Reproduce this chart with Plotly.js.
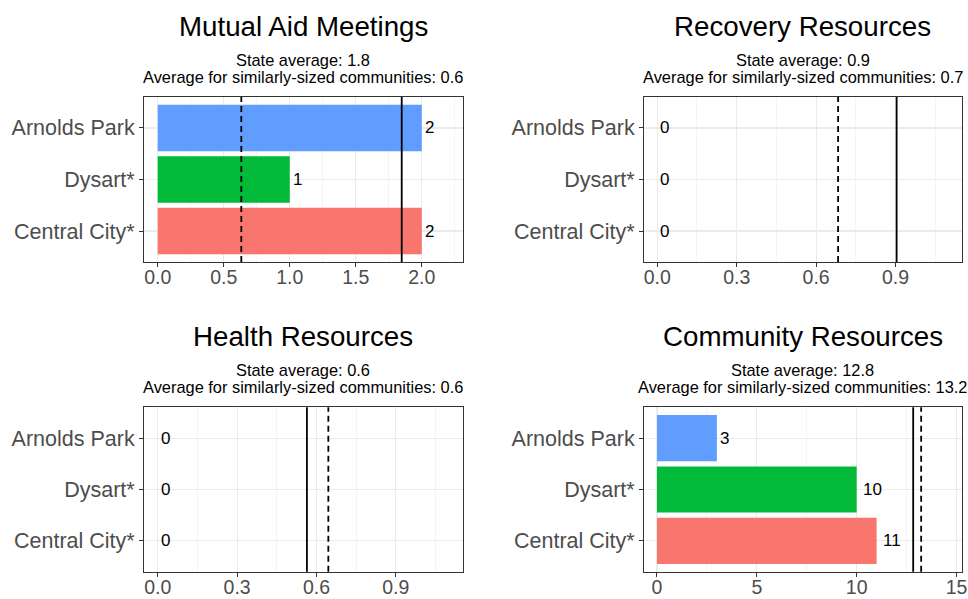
<!DOCTYPE html>
<html>
<head>
<meta charset="utf-8">
<script src="https://cdn.plot.ly/plotly-3.0.1.min.js"></script>
<style>html,body{margin:0;padding:0;background:#fff;}#chart{width:968px;height:599px;}</style>
</head>
<body>
<div id="chart"></div>
<script>
// Categories (bottom to top in each panel)
const categories = ['Central City*', 'Dysart*', 'Arnolds Park'];
const barColors = ['#F8766D', '#00BA38', '#619CFF'];

const panelTitles = ['Mutual Aid Meetings', 'Recovery Resources', 'Health Resources', 'Community Resources'];
const mutualAid = [2, 1, 2];
const recovery = [0, 0, 0];
const health = [0, 0, 0];
const community = [11, 10, 3];
const stateAverage = [1.848, 0.904, 0.564, 12.83];
const similarAverage = [0.633, 0.683, 0.645, 13.23];

const seriesList = [mutualAid, recovery, health, community];

// layout geometry (pixels)
const W = 968, H = 599;
const colX = [[144, 462.7], [644, 961.5]];
const rowY = [[97, 262], [407.3, 571.7]];
const xRanges = [[-0.104, 2.31], [-0.05, 1.149], [-0.052, 1.153], [-0.65, 15.25]];
const xDticks = [0.5, 0.3, 0.3, 5];

const FONT = 'Liberation Sans, Arial, sans-serif';
const data = [];
const shapes = [];
const annotations = [];
const layout = {
  width: W, height: H,
  margin: {l: 0, r: 0, t: 0, b: 0},
  paper_bgcolor: '#ffffff',
  plot_bgcolor: '#ffffff',
  showlegend: false,
  font: {family: FONT},
  shapes: shapes,
  annotations: annotations
};

for (let p = 0; p < 4; p++) {
  const col = p % 2, row = Math.floor(p / 2);
  const sfx = p === 0 ? '' : String(p + 1);
  const xa = 'x' + sfx, ya = 'y' + sfx;
  const vals = seriesList[p];
  data.push({
    type: 'bar', orientation: 'h',
    x: vals, y: categories,
    xaxis: xa, yaxis: ya,
    marker: {color: barColors, line: {width: 0}},
    width: 0.9,
    hoverinfo: 'x+y'
  });
  const xd = [colX[col][0] / W, colX[col][1] / W];
  const yd = [1 - rowY[row][1] / H, 1 - rowY[row][0] / H];
  layout['xaxis' + sfx] = {
    domain: xd, anchor: ya, range: xRanges[p], dtick: xDticks[p], tick0: 0,
    showline: true, mirror: true, linecolor: '#333333', linewidth: 1,
    ticks: 'outside', ticklen: 4, tickcolor: '#333333', tickwidth: 1,
    ticklabelstandoff: -6,
    tickfont: {size: 19.5, color: '#4D4D4D', family: FONT},
    tickformat: p === 3 ? 'd' : '.1f',
    showgrid: true, gridcolor: '#EBEBEB', gridwidth: 1.2,
    minor: {dtick: xDticks[p] / 2, tick0: 0, showgrid: true, gridcolor: '#EFEFEF', gridwidth: 0.7, ticks: ''},
    zeroline: false, fixedrange: true
  };
  layout['yaxis' + sfx] = {
    domain: yd, anchor: xa, type: 'category',
    categoryorder: 'array', categoryarray: categories, range: [-0.6, 2.6],
    showline: true, mirror: true, linecolor: '#333333', linewidth: 1,
    ticks: 'outside', ticklen: 4, tickcolor: '#333333', tickwidth: 1,
    ticklabelstandoff: 0,
    tickfont: {size: 21.5, color: '#4D4D4D', family: FONT},
    showgrid: true, gridcolor: '#EBEBEB', gridwidth: 1.2,
    zeroline: false, fixedrange: true
  };
  // reference lines
  shapes.push({type: 'line', xref: xa, yref: ya + ' domain', x0: stateAverage[p], x1: stateAverage[p], y0: 0, y1: 1,
    line: {color: '#000000', width: 1.8}});
  shapes.push({type: 'line', xref: xa, yref: ya + ' domain', x0: similarAverage[p], x1: similarAverage[p], y0: 0, y1: 1,
    line: {color: '#000000', width: 1.8, dash: '6px,4px'}});
  // value labels
  for (let i = 0; i < categories.length; i++) {
    const t = String(vals[i]);
    annotations.push({xref: xa, yref: ya, x: vals[i], y: categories[i], text: t,
      showarrow: false, xanchor: 'left', yanchor: 'middle', xshift: 3 * t.length - 2,
      font: {size: 17, color: '#000000', family: FONT}});
  }
  // titles
  const cx = (colX[col][0] + colX[col][1]) / 2 / W;
  const top = rowY[row][0];
  annotations.push({xref: 'paper', yref: 'paper', x: cx, y: 1 - (top - 71) / H, text: panelTitles[p],
    showarrow: false, xanchor: 'center', yanchor: 'middle', font: {size: 27.7, color: '#000000', family: FONT}});
  annotations.push({xref: 'paper', yref: 'paper', x: cx, y: 1 - (top - 37) / H,
    text: 'State average: ' + stateAverage[p].toFixed(1),
    showarrow: false, xanchor: 'center', yanchor: 'middle', font: {size: 16.4, color: '#000000', family: FONT}});
  annotations.push({xref: 'paper', yref: 'paper', x: cx, y: 1 - (top - 20) / H,
    text: 'Average for similarly-sized communities: ' + similarAverage[p].toFixed(1),
    showarrow: false, xanchor: 'center', yanchor: 'middle', font: {size: 16.4, color: '#000000', family: FONT}});
}

Plotly.newPlot('chart', data, layout, {staticPlot: true, displayModeBar: false});
</script>
</body>
</html>
